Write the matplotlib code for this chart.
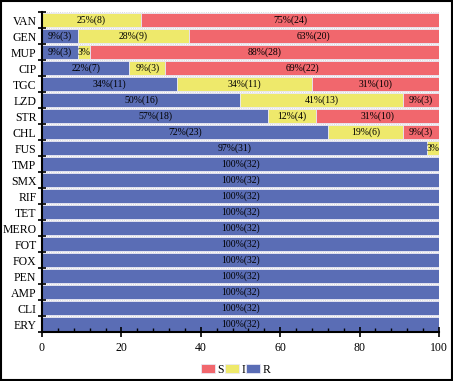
import numpy as np
import matplotlib.pyplot as plt
from matplotlib.ticker import MultipleLocator, FixedLocator
from matplotlib.patches import Rectangle

plt.rcParams['font.family'] = ['Liberation Serif', 'DejaVu Serif']

# drugs from top to bottom; percentages (as printed) and counts out of 32 isolates
drugs = ['VAN', 'GEN', 'MUP', 'CIP', 'TGC', 'LZD', 'STR', 'CHL', 'FUS', 'TMP',
         'SMX', 'RIF', 'TET', 'MERO', 'FOT', 'FOX', 'PEN', 'AMP', 'CLI', 'ERY']
r_pct = [0, 9, 9, 22, 34, 50, 57, 72, 97, 100, 100, 100, 100, 100, 100, 100, 100, 100, 100, 100]
i_pct = [25, 28, 3, 9, 34, 41, 12, 19, 3, 0, 0, 0, 0, 0, 0, 0, 0, 0, 0, 0]
s_pct = [75, 63, 88, 69, 31, 9, 31, 9, 0, 0, 0, 0, 0, 0, 0, 0, 0, 0, 0, 0]
r_counts = [0, 3, 3, 7, 11, 16, 18, 23, 31, 32, 32, 32, 32, 32, 32, 32, 32, 32, 32, 32]
i_counts = [8, 9, 1, 3, 11, 13, 4, 6, 1, 0, 0, 0, 0, 0, 0, 0, 0, 0, 0, 0]
s_counts = [24, 20, 28, 22, 10, 3, 10, 3, 0, 0, 0, 0, 0, 0, 0, 0, 0, 0, 0, 0]

red = '#F1676D'
yellow = '#EEE96B'
blue = '#5A6DB5'

r = np.array(r_pct, dtype=float)
i = np.array(i_pct, dtype=float)
# S segment fills the rest of each 100% stack
s_width = np.where(np.array(s_pct) > 0, 100 - r - i, 0)
y = np.arange(len(drugs))[::-1]

fig = plt.figure(figsize=(4.53, 3.81), dpi=100)
fig.patches.append(Rectangle((0.002, 0.002), 0.996, 0.996, transform=fig.transFigure,
                             fill=False, edgecolor='black', linewidth=1.5))
ax = fig.add_axes([0.0927, 0.1286, 0.8763, 0.8399])

h = 0.9
kw = dict(height=h, edgecolor='#e8e8f4', linewidth=0.6)
ax.barh(y, r, color=blue, label='R', **kw)
ax.barh(y, i, left=r, color=yellow, label='I', **kw)
ax.barh(y, s_width, left=r + i, color=red, label='S', **kw)

def seg_label(pcts, counts, widths, lefts):
    for yy, p, c, w, l in zip(y, pcts, counts, widths, lefts):
        if c == 0:
            continue
        txt = f'{p}%' if w < 5 else f'{p}%({c})'
        ax.text(l + w / 2, yy, txt, ha='center', va='center', fontsize=7)

seg_label(r_pct, r_counts, r, np.zeros_like(r))
seg_label(i_pct, i_counts, i, r)
seg_label(s_pct, s_counts, s_width, r + i)

# dotted separators between bars
for b in np.arange(-0.5, len(drugs), 1):
    ax.axhline(b, color='#cccccc', linestyle=':', linewidth=0.6, zorder=0)

ax.set_xlim(0, 100)
ax.set_ylim(-0.5, len(drugs) - 0.5)
ax.set_yticks(y)
ax.set_yticklabels(drugs, fontsize=8.5)
ax.yaxis.set_minor_locator(FixedLocator(np.arange(-0.5, len(drugs), 1)))
ax.tick_params(axis='y', which='major', length=0, pad=4)
ax.tick_params(axis='y', which='minor', direction='inout', length=6, width=1.2)
ax.xaxis.set_major_locator(MultipleLocator(20))
ax.xaxis.set_minor_locator(MultipleLocator(4))
ax.tick_params(axis='x', which='major', direction='inout', length=7, width=1.2, labelsize=8.5)
ax.tick_params(axis='x', which='minor', direction='in', length=3, width=1.0)
for side in ['top', 'right']:
    ax.spines[side].set_visible(False)
for side in ['left', 'bottom']:
    ax.spines[side].set_linewidth(1.5)

handles, labels = ax.get_legend_handles_labels()
order = [2, 1, 0]
fig.legend([handles[k] for k in order], [labels[k] for k in order],
           loc='center', bbox_to_anchor=(0.52, 0.03), ncol=3, frameon=False,
           fontsize=8.5, handlelength=1.2, handleheight=0.8, handletextpad=0.2,
           columnspacing=0.1)

fig.savefig('out.png', dpi=100)
